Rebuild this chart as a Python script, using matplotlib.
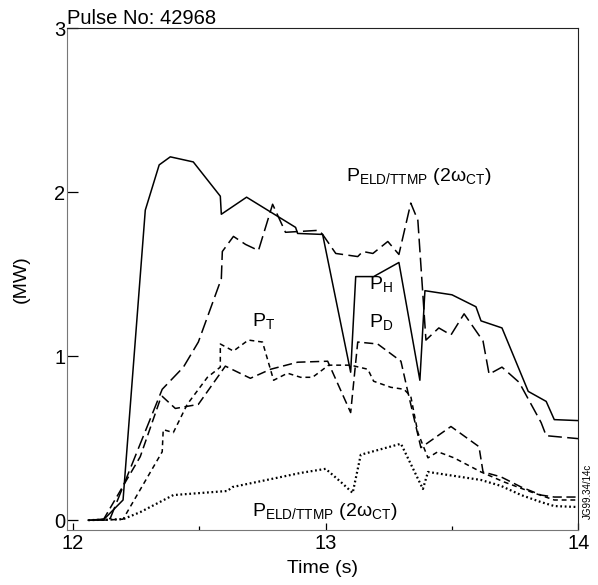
import matplotlib
matplotlib.use('Agg')
import matplotlib.pyplot as plt

plt.rcParams['font.family'] = ['Liberation Sans', 'DejaVu Sans']

pulse = 42968

# P_H (solid)
t_h = [12.06, 12.119, 12.198, 12.286, 12.341, 12.385, 12.476, 12.583, 12.587, 12.687,
       12.881, 12.889, 12.988, 13.099, 13.119, 13.190, 13.290, 13.373, 13.393, 13.500,
       13.595, 13.615, 13.698, 13.802, 13.873, 13.905, 14.0]
p_h = [0.0, 0.0, 0.123, 1.890, 2.166, 2.215, 2.184, 1.975, 1.865, 1.969,
       1.785, 1.748, 1.742, 0.902, 1.485, 1.485, 1.571, 0.853, 1.399, 1.374,
       1.301, 1.215, 1.172, 0.785, 0.724, 0.613, 0.607]

# P_ELD/TTMP (2w_CT), upper (long dash)
t_e = [12.067, 12.147, 12.353, 12.437, 12.496, 12.587, 12.591, 12.635, 12.683, 12.734,
       12.790, 12.841, 12.972, 12.988, 13.040, 13.127, 13.147, 13.187, 13.246, 13.290,
       13.337, 13.365, 13.397, 13.448, 13.496, 13.548, 13.623, 13.647, 13.698, 13.766,
       13.853, 13.873, 14.0]
p_e = [0.0, 0.01, 0.798, 0.933, 1.086, 1.472, 1.638, 1.730, 1.681, 1.644,
       1.926, 1.755, 1.767, 1.742, 1.626, 1.607, 1.638, 1.626, 1.699, 1.620,
       1.933, 1.828, 1.098, 1.172, 1.129, 1.258, 1.092, 0.890, 0.933, 0.840,
       0.595, 0.515, 0.497]

# P_D (medium dash)
t_d = [12.119, 12.266, 12.345, 12.353, 12.405, 12.496, 12.603, 12.702, 12.782, 12.889,
       13.008, 13.099, 13.127, 13.206, 13.298, 13.325, 13.377, 13.496, 13.607, 13.623,
       13.694, 13.774, 13.853, 13.905, 14.0]
p_d = [0.0, 0.387, 0.736, 0.755, 0.681, 0.706, 0.939, 0.865, 0.920, 0.963,
       0.969, 0.656, 1.086, 1.074, 0.969, 0.785, 0.442, 0.571, 0.448, 0.294,
       0.264, 0.202, 0.153, 0.141, 0.141]

# P_T (short dash)
t_t = [12.119, 12.198, 12.353, 12.357, 12.397, 12.452, 12.532, 12.583, 12.583, 12.635,
       12.694, 12.750, 12.794, 12.849, 12.901, 12.948, 13.012, 13.099, 13.167, 13.190,
       13.258, 13.310, 13.337, 13.365, 13.405, 13.444, 13.508, 13.615, 13.706, 13.813,
       13.905, 14.0]
p_t = [0.0, 0.006, 0.417, 0.552, 0.534, 0.706, 0.871, 0.933, 1.074, 1.031,
       1.098, 1.086, 0.853, 0.896, 0.871, 0.871, 0.945, 0.945, 0.920, 0.847,
       0.810, 0.798, 0.755, 0.534, 0.380, 0.417, 0.380, 0.294, 0.233, 0.172,
       0.123, 0.123]

# P_ELD/TTMP (2w_CT), lower (dotted)
t_l = [12.06, 12.198, 12.266, 12.397, 12.611, 12.631, 12.901, 13.0, 13.06, 13.107,
       13.139, 13.298, 13.385, 13.405, 13.508, 13.615, 13.694, 13.774, 13.853, 13.905, 14.0]
p_l = [0.0, 0.006, 0.049, 0.153, 0.178, 0.202, 0.288, 0.313, 0.233, 0.166,
       0.399, 0.466, 0.190, 0.294, 0.270, 0.245, 0.209, 0.153, 0.110, 0.086, 0.080]

fig = plt.figure(figsize=(5.98, 5.85), dpi=100)
ax = fig.add_axes([0.112, 0.094, 0.855, 0.858])

lw = 1.1
ax.plot(t_h, p_h, color='black', lw=lw)
ax.plot(t_e, p_e, color='black', lw=lw, dashes=(9, 3.5))
ax.plot(t_d, p_d, color='black', lw=lw, dashes=(6, 3))
ax.plot(t_t, p_t, color='black', lw=lw, dashes=(3.2, 2.5))
ax.plot(t_l, p_l, color='black', lw=1.6, dashes=(0.8, 1.2))

ax.set_xlim(11.976, 14.0)
ax.set_ylim(-0.06, 3.0)
ax.set_xticks([12, 13, 14])
ax.set_xticks([12.5, 13.5], minor=True)
ax.set_yticks([0, 1, 2, 3])
ax.tick_params(axis='y', direction='in', length=8, width=0.9, labelsize=14.5, pad=1)
ax.tick_params(axis='x', which='major', direction='in', length=5, width=0.9, labelsize=14.5, pad=3)
ax.tick_params(axis='x', which='minor', direction='in', length=3, width=0.9)

for side in ['left', 'bottom']:
    ax.spines[side].set_color('#777777')
for side in ['top', 'right']:
    ax.spines[side].set_color('#222222')

ax.set_xlabel('Time (s)', fontsize=14, labelpad=5)
ax.set_ylabel('(MW)', fontsize=14, labelpad=18)

ax.text(0.0, 1.0, 'Pulse No: %d' % pulse, transform=ax.transAxes, fontsize=14.5,
        ha='left', va='bottom')

label_eld = r'P$_{\mathregular{ELD/TTMP}}$ (2ω$_{\mathregular{CT}}$)'
ax.text(13.08, 2.03, label_eld, fontsize=14, ha='left', va='bottom')
ax.text(13.17, 1.37, r'P$_{\mathregular{H}}$', fontsize=14, ha='left', va='bottom')
ax.text(13.17, 1.14, r'P$_{\mathregular{D}}$', fontsize=14, ha='left', va='bottom')
ax.text(12.71, 1.15, r'P$_{\mathregular{T}}$', fontsize=14, ha='left', va='bottom')
ax.text(12.71, -0.01, label_eld, fontsize=14, ha='left', va='bottom')

fig.text(0.983, 0.16, 'JG99.34/14c', rotation=90, fontsize=7, ha='center', va='center')

plt.savefig('out.png', dpi=100)
